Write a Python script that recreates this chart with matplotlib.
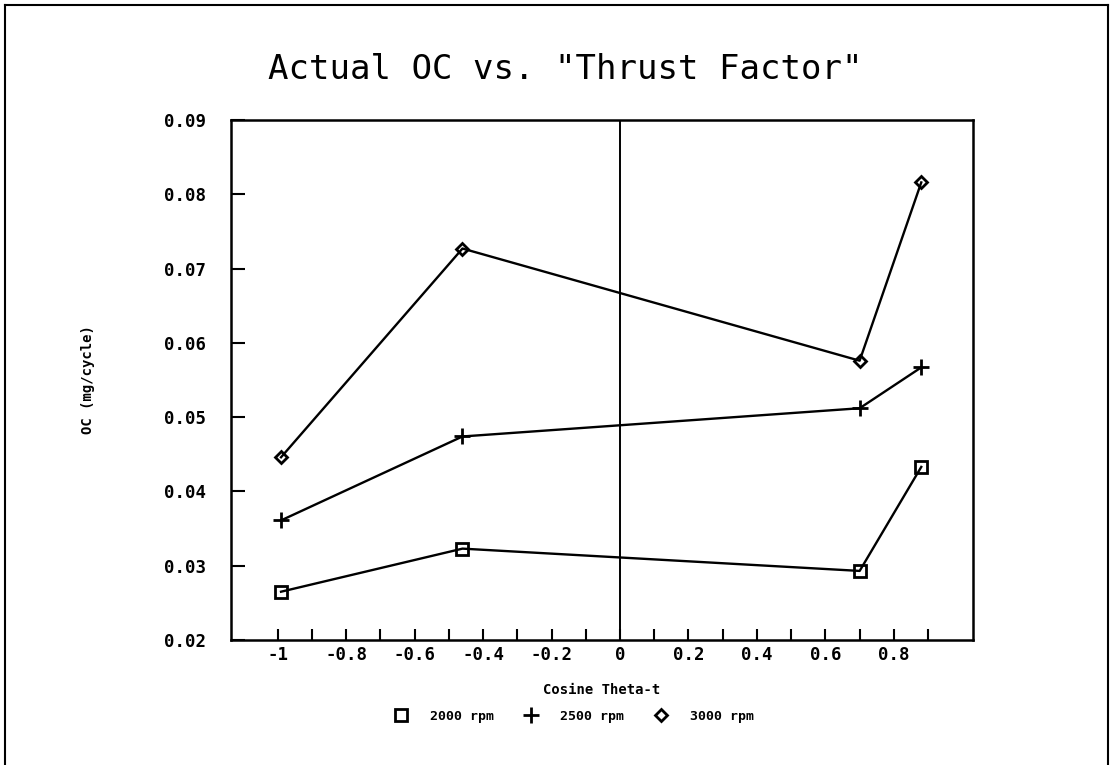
import matplotlib.pyplot as plt
import numpy as np
from matplotlib.lines import Line2D

# cosine of thrust angle, one column per test point
cos_theta = [-0.99, -0.46, 0.70, 0.88]

# oil consumption in mg/cycle
oc_2000 = [0.0265, 0.0323, 0.0293, 0.0433]
oc_2500 = [0.0361, 0.0474, 0.0512, 0.0567]
oc_3000 = [0.0446, 0.0727, 0.0576, 0.0816]

series_labels = ["2000 rpm", "2500 rpm", "3000 rpm"]
y_ticks = [0.02, 0.03, 0.04, 0.05, 0.06, 0.07, 0.08, 0.09]
x_ticks = [-1, -0.8, -0.6, -0.4, -0.2, 0, 0.2, 0.4, 0.6, 0.8]

MONO = "DejaVu Sans Mono"

fig = plt.figure(figsize=(11.14, 7.65), dpi=100)
ax = fig.add_axes([0.2074, 0.1634, 0.666, 0.6797])

styles = [
    dict(marker="s", markersize=8, fillstyle="none"),
    dict(marker="+", markersize=11),
    dict(marker="D", markersize=6, fillstyle="none"),
]
for ys, st in zip([oc_2000, oc_2500, oc_3000], styles):
    ax.plot(cos_theta, ys, color="black", linewidth=1.7, markeredgewidth=2.0, **st)

ax.axvline(0, color="black", linewidth=1.4)

ax.set_xlim(-1.136, 1.031)
ax.set_ylim(0.02, 0.09)

ax.set_xticks(x_ticks)
ax.set_xticklabels(["-1", "-0.8", "-0.6", "-0.4", "-0.2", "0", "0.2", "0.4", "0.6", "0.8"],
                   fontfamily=MONO, fontweight="bold", fontsize=12.5)
ax.set_xticks(np.arange(-0.9, 1.0, 0.2), minor=True)
ax.set_yticks(y_ticks)
ax.set_yticklabels([f"{v:.2f}" for v in y_ticks], fontfamily=MONO, fontweight="bold", fontsize=12.5)

ax.tick_params(axis="both", which="both", direction="in", width=1.5, top=False, right=False)
ax.tick_params(axis="x", which="both", length=8, pad=4)
ax.tick_params(axis="y", length=10, pad=18)
for sp in ax.spines.values():
    sp.set_linewidth(1.8)

ax.set_xlabel("Cosine Theta-t", fontfamily=MONO, fontweight="bold", fontsize=10, labelpad=14)
ax.set_ylabel("OC (mg/cycle)", fontfamily=MONO, fontweight="bold", fontsize=10, labelpad=50)

fig.text(0.507, 0.909, 'Actual OC vs. "Thrust Factor"', fontfamily=MONO, fontsize=24.5,
         ha="center", va="center")

handles = [Line2D([], [], color="black", linestyle="none", markeredgewidth=2.0, **st) for st in styles]
fig.legend(handles, series_labels, loc="center", bbox_to_anchor=(0.515, 0.064), ncol=3,
           frameon=False, handlelength=1.2, handletextpad=1.6, columnspacing=2.2,
           prop={"family": MONO, "weight": "bold", "size": 9.5})

# page border on left, top and right
W, H = 1114, 765
for xs, ys in [([5, 5], [0, H - 5]), ([5, W - 6], [H - 5, H - 5]), ([W - 6, W - 6], [0, H - 5])]:
    fig.add_artist(Line2D(np.array(xs) / W, np.array(ys) / H, color="black", linewidth=1.5))

fig.savefig("out.png", dpi=100)
